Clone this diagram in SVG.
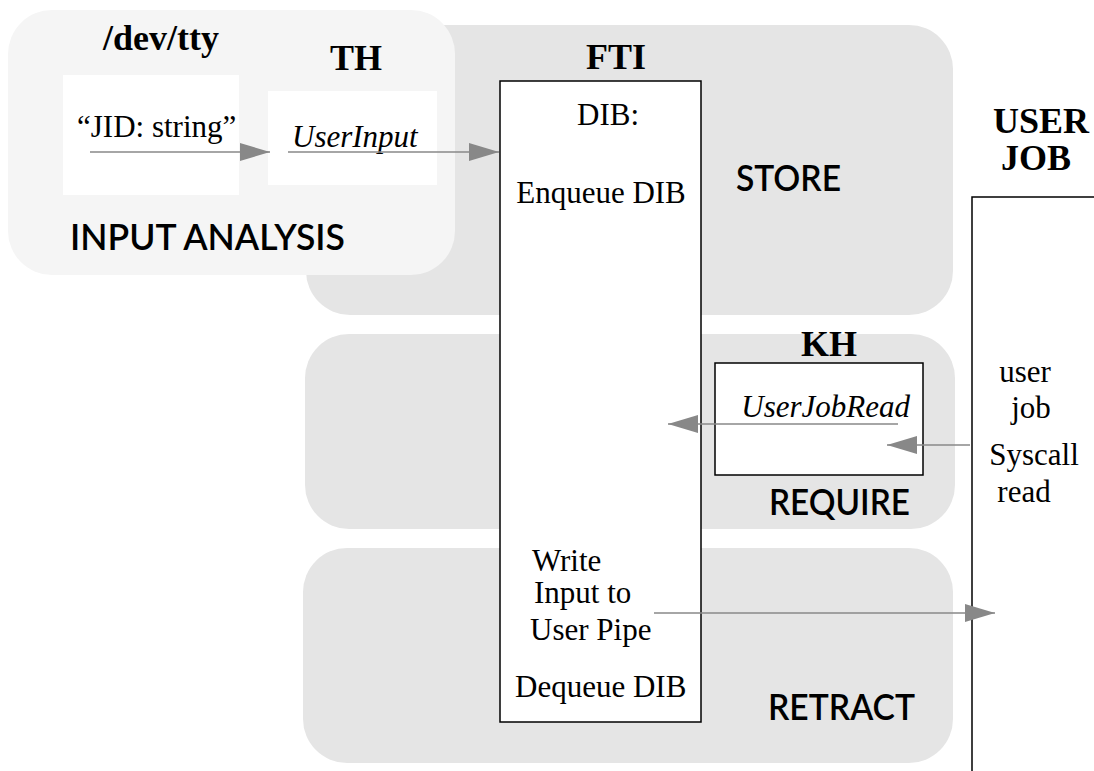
<svg xmlns="http://www.w3.org/2000/svg" width="1094" height="771" viewBox="0 0 1094 771">
<defs>
<style>
.zone{fill:#e5e5e5}
.zone2{fill:#f5f5f5}
.lbl{font-family:Lato,"Liberation Sans",sans-serif;font-weight:600;font-size:36px;fill:#000}
.hd{font-family:"Liberation Serif",serif;font-weight:bold;font-size:36px;fill:#000;text-anchor:middle}
.tx{font-family:"Liberation Serif",serif;font-size:31px;fill:#000}
.it{font-family:"Liberation Serif",serif;font-style:italic;font-size:31px;fill:#000}
.box{fill:#fff;stroke:#000;stroke-width:1.5}
.wbox{fill:#fff}
.con{stroke:#888;stroke-width:1.6;fill:none;marker-end:url(#ah)}
</style>
<marker id="ah" markerUnits="userSpaceOnUse" markerWidth="30" markerHeight="18" refX="30" refY="9" orient="auto">
<path d="M0,0 L30,9 L0,18 z" fill="#888"/>
</marker>
</defs>
<g id="store">
<rect class="zone" x="306" y="25" width="647" height="290" rx="44"/>
<text class="lbl" x="736" y="191" textLength="105" lengthAdjust="spacingAndGlyphs">STORE</text>
</g>
<g id="require">
<rect class="zone" x="305" y="334" width="650" height="195" rx="44"/>
</g>
<g id="retract">
<rect class="zone" x="303" y="548" width="650" height="215" rx="44"/>
<text class="lbl" x="768" y="720" textLength="147" lengthAdjust="spacingAndGlyphs">RETRACT</text>
</g>
<g id="input-analysis">
<rect class="zone2" x="8" y="10" width="447" height="265" rx="44"/>
<text class="lbl" x="70" y="250" textLength="275" lengthAdjust="spacingAndGlyphs">INPUT ANALYSIS</text>
</g>
<g id="devtty">
<rect class="wbox" x="63" y="75" width="176" height="120"/>
<text class="hd" x="161" y="50">/dev/tty</text>
<text class="tx" x="77" y="137">“JID: string”</text>
</g>
<g id="th">
<rect class="wbox" x="268" y="91" width="169" height="94"/>
<text class="hd" x="356" y="70">TH</text>
<text class="it" x="292" y="147">UserInput</text>
</g>
<g id="fti">
<rect class="box" x="500" y="81" width="201" height="641"/>
<text class="hd" x="616" y="69">FTI</text>
<text class="tx" x="608" y="125" text-anchor="middle">DIB:</text>
<text class="tx" x="601" y="203" text-anchor="middle">Enqueue DIB</text>
<text class="tx" x="532" y="571">Write</text>
<text class="tx" x="534" y="603">Input to</text>
<text class="tx" x="530" y="640">User Pipe</text>
<text class="tx" x="515" y="697">Dequeue DIB</text>
</g>
<g id="kh">
<rect class="box" x="715" y="363" width="208" height="112" stroke="#222"/>
<text class="hd" x="829" y="356">KH</text>
<text class="it" x="910" y="417" text-anchor="end">UserJobRead</text>
<text class="lbl" x="769" y="515" textLength="141" lengthAdjust="spacingAndGlyphs">REQUIRE</text>
</g>
<g id="user-job">
<path d="M972,771 V197 H1094" fill="none" stroke="#000" stroke-width="1.5"/>
<text class="hd" x="1041" y="133">USER</text>
<text class="hd" x="1036" y="170">JOB</text>
<text class="tx" x="1025" y="382" text-anchor="middle">user</text>
<text class="tx" x="1031" y="418" text-anchor="middle">job</text>
<text class="tx" x="1034" y="465" text-anchor="middle">Syscall</text>
<text class="tx" x="1024" y="502" text-anchor="middle">read</text>
</g>
<g id="connectors">
<line class="con" x1="90" y1="152" x2="270" y2="152"/>
<line class="con" x1="288" y1="152" x2="499" y2="152"/>
<line class="con" x1="898" y1="424" x2="668" y2="424"/>
<line class="con" x1="970" y1="445" x2="887" y2="445"/>
<line class="con" x1="654" y1="613" x2="995" y2="613"/>
</g>
</svg>
